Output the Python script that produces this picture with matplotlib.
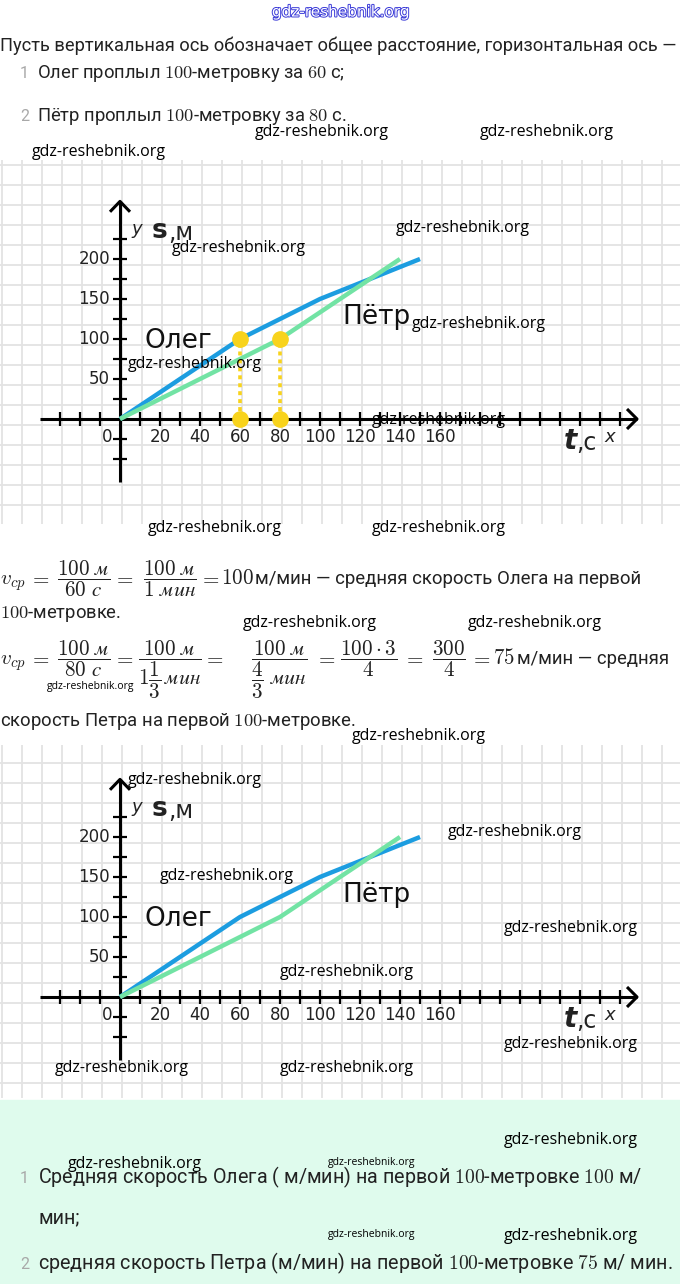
import numpy as np
import matplotlib.pyplot as plt
import matplotlib.patheffects as pe
from matplotlib.patches import Rectangle

plt.rcParams['font.family'] = ['DejaVu Sans']
plt.rcParams['mathtext.fontset'] = 'cm'

W, H = 680, 1284

# swim data (t in s, s in m)
oleg_t = [0, 60, 100, 150]
oleg_s = [0, 100, 150, 200]
petr_t = [0, 80, 140]
petr_s = [0, 100, 200]
mark_t = [60, 80]
mark_s = [100, 100]
x_labels = [20, 40, 60, 80, 100, 120, 140, 160]
y_labels = [50, 100, 150, 200]

BLUE = '#1c9de0'
GREEN = '#72e3a4'
YELLOW = '#f8d31c'
TXT = '#222222'
NUM = '#a8a8a8'
BODY = 'Roboto'

fig = plt.figure(figsize=(W / 100, H / 100), dpi=100)
bg = fig.add_axes([0, 0, 1, 1])
bg.set_xlim(0, W)
bg.set_ylim(H, 0)
bg.axis('off')

# mint answer box
bg.add_patch(Rectangle((0, 1100), W, H - 1100, color='#dffbed', zorder=0))


def px_axes(x0, y0, x1, y1):
    return fig.add_axes([x0 / W, 1 - y1 / H, (x1 - x0) / W, (y1 - y0) / H])


def graph(top, bottom, oy, marks):
    ox = 120
    sx, sy = 2.0, 0.8   # pixels per unit
    ax = px_axes(0, top, W, bottom)
    ax.set_xlim(-ox / sx, (W - ox) / sx)
    ax.set_ylim((oy - bottom) / sy, (oy - top) / sy)
    ax.axis('off')
    ax.patch.set_visible(False)
    y0, y1 = ax.get_ylim()
    x0, x1 = ax.get_xlim()
    # squared paper
    ax.vlines(np.arange(-59, 281, 10), y0, y1, color='#e3e3e3', lw=1.3, zorder=0)
    ax.hlines(np.arange(-132.5, 330, 25), x0, x1, color='#e3e3e3', lw=1.3, zorder=0)

    # axes with arrows
    k = dict(color='black', lw=2.2, zorder=3, solid_capstyle='butt')
    ax.plot([-40, 258.5], [0, 0], **k)
    ax.plot([253.5, 258.5, 253.5], [12.5, 0, -12.5], **k)
    ax.plot([0, 0], [-79, 272], **k)
    ax.plot([-5, 0, 5], [259, 272, 259], **k)
    xt = [v for v in range(-30, 251, 10) if v != 0]
    ax.vlines(xt, -9, 9, color='black', lw=1.6, zorder=3)
    yt = [v for v in range(-50, 226, 25) if v != 0]
    ax.hlines(yt, -3.7, 3.7, color='black', lw=1.6, zorder=3)

    for v in x_labels:
        ax.text(v, -22.5, str(v), ha='center', va='center', size=12, color=TXT)
    for v in y_labels:
        ax.text(-5, v, str(v), ha='right', va='center', size=12, color=TXT)
    ax.text(-6.5, -22.5, '0', ha='center', va='center', size=12, color=TXT)

    ax.text(5.5, 237, 'y', style='italic', ha='left', va='center', size=13, color=TXT)
    ax.text(16, 235, 's', weight='bold', ha='left', va='center', size=19, color=TXT)
    ax.text(24, 233, ',м', ha='left', va='center', size=17, color=TXT)
    ax.text(222, -28, 't', weight='bold', style='italic', ha='left', va='center', size=20, color=TXT)
    ax.text(228, -30, ',с', ha='left', va='center', size=17, color=TXT)
    ax.text(242, -23, 'x', style='italic', ha='left', va='center', size=13, color=TXT)

    # the two swimmers
    ax.plot(oleg_t, oleg_s, color=BLUE, lw=3.2, zorder=4, solid_capstyle='butt')
    ax.plot(petr_t, petr_s, color=GREEN, lw=3.2, zorder=4, solid_capstyle='butt')
    ax.text(12.5, 97, 'Олег', ha='left', va='center', size=19, color='#111')
    ax.text(111, 128, 'Пётр', ha='left', va='center', size=19, color='#111')

    if marks:
        ax.vlines(mark_t, 0, mark_s, color=YELLOW, lw=2.6, linestyles=(0, (1.1, 1.1)), zorder=5)
        ax.plot(mark_t, mark_s, 'o', color=YELLOW, ms=11, zorder=6)
        ax.plot(mark_t, [0] * len(mark_t), 'o', color=YELLOW, ms=11, zorder=6)
    return ax


def formula(pieces, y, size=15.2):
    # pieces: (x, mathtext, ha)
    for x, s, ha in pieces:
        bg.text(x, y, s, size=size, color=TXT, ha=ha, va='baseline')


# ---------- text of the page ----------
bg.text(0, 51, 'Пусть вертикальная ось обозначает общее расстояние, горизонтальная ось —',
        family=BODY, size=13.15, color=TXT, va='baseline')
bg.text(20, 78, '1', family=BODY, size=11.5, color=NUM, va='baseline')
bg.text(37, 78, 'Олег проплыл $100$-метровку за $60$ с;', family=BODY, size=13.2,
        color=TXT, va='baseline')
bg.text(20, 121, '2', family=BODY, size=11.5, color=NUM, va='baseline')
bg.text(37, 121, 'Пётр проплыл $100$-метровку за $80$ с.', family=BODY, size=13.2,
        color=TXT, va='baseline')

formula([(0, r'$v_{cp}$', 'left'),
         (39, r'$=$', 'center'),
         (84, r'$\dfrac{100\ \mathit{м}}{60\ \mathit{с}}$', 'center'),
         (123, r'$=$', 'center'),
         (170, r'$\dfrac{100\ \mathit{м}}{1\ \mathit{мин}}$', 'center'),
         (209, r'$=$', 'center'),
         (221, r'$100$', 'left')], 584)
bg.text(255, 584, 'м/мин — средняя скорость Олега на первой', family=BODY, size=13.4,
        color=TXT, va='baseline')
bg.text(0, 618, '$100$-метровке.', family=BODY, size=13.2, color=TXT, va='baseline')

formula([(0, r'$v_{cp}$', 'left'),
         (39, r'$=$', 'center'),
         (84, r'$\dfrac{100\ \mathit{м}}{80\ \mathit{с}}$', 'center'),
         (123, r'$=$', 'center'),
         (170, r'$\dfrac{100\ \mathit{м}}{1\dfrac{1}{3}\,\mathit{мин}}$', 'center'),
         (213, r'$=$', 'center'),
         (279, r'$\dfrac{100\ \mathit{м}}{\dfrac{4}{3}\ \mathit{мин}}$', 'center'),
         (325, r'$=$', 'center'),
         (369, r'$\dfrac{100\cdot 3}{4}$', 'center'),
         (413, r'$=$', 'center'),
         (449, r'$\dfrac{300}{4}$', 'center'),
         (480, r'$=$', 'center'),
         (493, r'$75$', 'left')], 664)
bg.text(517, 664, 'м/мин — средняя', family=BODY, size=13.3, color=TXT, va='baseline')
bg.text(0, 726, 'скорость Петра на первой $100$-метровке.', family=BODY, size=13.3,
        color=TXT, va='baseline')

bg.text(20, 1183, '1', family=BODY, size=11.5, color=NUM, va='baseline')
bg.text(38, 1183, 'Средняя скорость Олега ( м/мин) на первой $100$-метровке $100$ м/',
        family=BODY, size=14.2, color=TXT, va='baseline')
bg.text(38, 1223, 'мин;', family=BODY, size=14.2, color=TXT, va='baseline')
bg.text(20, 1269, '2', family=BODY, size=11.5, color=NUM, va='baseline')
bg.text(38, 1269, 'средняя скорость Петра (м/мин) на первой $100$-метровке $75$ м/ мин.',
        family=BODY, size=14.2, color=TXT, va='baseline')

# ---------- graphs ----------
graph(160, 524, 419, True)
graph(745, 1098, 997, False)

# ---------- watermarks on top ----------
ov = fig.add_axes([0, 0, 1, 1])
ov.set_xlim(0, W)
ov.set_ylim(H, 0)
ov.axis('off')
ov.patch.set_visible(False)

ov.text(341, 12, 'gdz-reshebnik.org', ha='center', va='center', size=11, color='white',
        path_effects=[pe.withStroke(linewidth=1.4, foreground='#3b3bd8')])

wm_big = [(255, 132), (480, 132), (32, 152), (396, 228), (172, 248), (412, 324),
          (128, 364), (372, 420), (148, 528), (372, 528), (243, 623), (468, 623),
          (352, 736), (128, 780), (448, 832), (160, 876), (504, 928), (280, 972),
          (504, 1044), (55, 1068), (280, 1068), (504, 1140), (68, 1164), (504, 1236)]
wm_small = [(47, 687), (328, 1162), (328, 1234)]
for x, y in wm_big:
    ov.text(x, y, 'gdz-reshebnik.org', family='Open Sans', size=11.5, color='black',
            ha='left', va='center')
for x, y in wm_small:
    ov.text(x, y, 'gdz-reshebnik.org', family='Open Sans', size=7.5, color='black',
            ha='left', va='center')

fig.savefig('out.png', dpi=100)
